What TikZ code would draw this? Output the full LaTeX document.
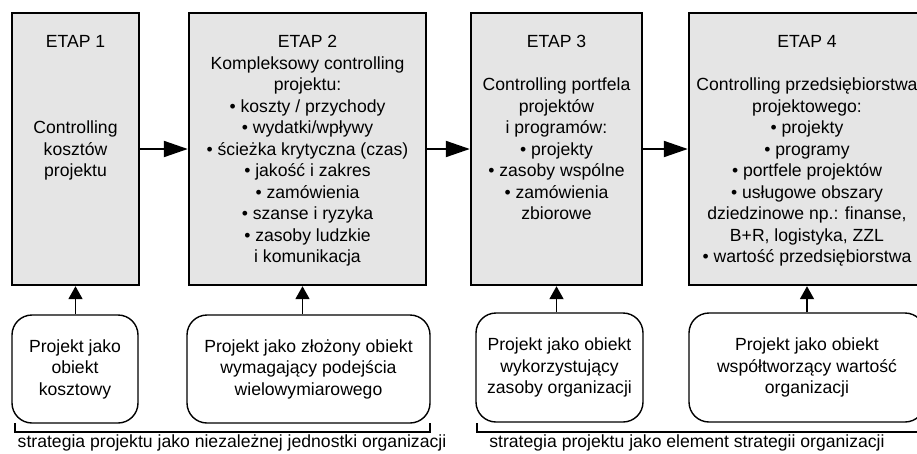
\documentclass[tikz,border=0pt]{standalone}
\usepackage{fontspec}
\setmainfont{Liberation Sans}
\usetikzlibrary{arrows.meta}
\definecolor{stagegray}{RGB}{229,229,229}
\tikzset{
  stagebox/.style={draw, line width=2.4pt, fill=stagegray},
  viewbox/.style={draw, line width=1.4pt, rounded corners=20pt, fill=white},
  boxtext/.style={align=center, inner sep=0pt, font=\fontsize{17.6}{21.5}\selectfont},
  flow/.style={line width=2pt, -{Triangle[length=24pt,width=16pt]}},
  feed/.style={line width=1.8pt, -{Triangle[length=13pt,width=14pt]}},
  brace/.style={line width=1.5pt}
}

\begin{document}
\begin{tikzpicture}[x=1pt,y=-1pt]
\useasboundingbox (0,0) rectangle (917,453);
\clip (0,0) rectangle (917,453);

\node[stagebox, minimum width=127pt, minimum height=272pt] (s1) at (75.5,149) {};
\node[stagebox, minimum width=237pt, minimum height=272pt] (s2) at (307.5,149) {};
\node[stagebox, minimum width=171pt, minimum height=272pt] (s3) at (556.5,149) {};
\node[stagebox, minimum width=236pt, minimum height=272pt] (s4) at (807,149) {};

\node[boxtext, anchor=north] (t1) at (75.5,35.3) {ETAP 1\\[64.5pt]Controlling\\kosztów\\projektu};
\node[boxtext, anchor=north] (t2) at (307.5,35.3) {ETAP 2\\Kompleksowy controlling\\projektu:\\• koszty / przychody\\• wydatki/wpływy\\• ścieżka krytyczna (czas)\\• jakość i zakres\\• zamówienia\\• szanse i ryzyka\\• zasoby ludzkie\\i komunikacja};
\node[boxtext, anchor=north] (t3) at (556.5,35.3) {ETAP 3\\[21.5pt]Controlling portfela\\projektów\\i programów:\\• projekty\\• zasoby wspólne\\• zamówienia\\zbiorowe};
\node[boxtext, anchor=north] (t4) at (807,35.3) {ETAP 4\\[21.5pt]Controlling przedsiębiorstwa\\projektowego:\\• projekty\\• programy\\• portfele projektów\\• usługowe obszary\\dziedzinowe np.: finanse,\\B+R, logistyka, ZZL\\• wartość przedsiębiorstwa};

\node[viewbox, boxtext, minimum width=126pt, minimum height=108pt] (p1) at (75,369) {Projekt jako\\obiekt\\kosztowy};
\node[viewbox, boxtext, minimum width=243pt, minimum height=108pt] (p2) at (308.5,369) {Projekt jako złożony obiekt\\wymagający podejścia\\wielowymiarowego};
\node[viewbox, boxtext, minimum width=167pt, minimum height=109pt] (p3) at (559.5,367.5) {Projekt jako obiekt\\wykorzystujący\\zasoby organizacji};
\node[viewbox, boxtext, minimum width=236pt, minimum height=109pt] (p4) at (807,367.5) {Projekt jako obiekt\\współtworzący wartość\\organizacji};

\draw[flow] (s1.east) -- (s2.west);
\draw[flow] (s2.east) -- (s3.west);
\draw[flow] (s3.east) -- (s4.west);

\draw[feed] (s1.south |- p1.north) -- (s1.south);
\draw[feed] ([xshift=-5pt]s2.south |- p2.north) -- ([xshift=-5pt]s2.south);
\draw[feed] (s3.south |- p3.north) -- (s3.south);
\draw[feed] (s4.south |- p4.north) -- (s4.south);

\draw[brace] (15,423) -- (15,432) -- (430,432) -- (430,423);
\draw[brace] (477,423) -- (477,432) -- (930,432);
\node[boxtext, anchor=base] (g1) at (232,447) {strategia projektu jako niezależnej jednostki organizacji};
\node[boxtext, anchor=base] (g2) at (687,447) {strategia projektu jako element strategii organizacji};
\end{tikzpicture}
\end{document}
